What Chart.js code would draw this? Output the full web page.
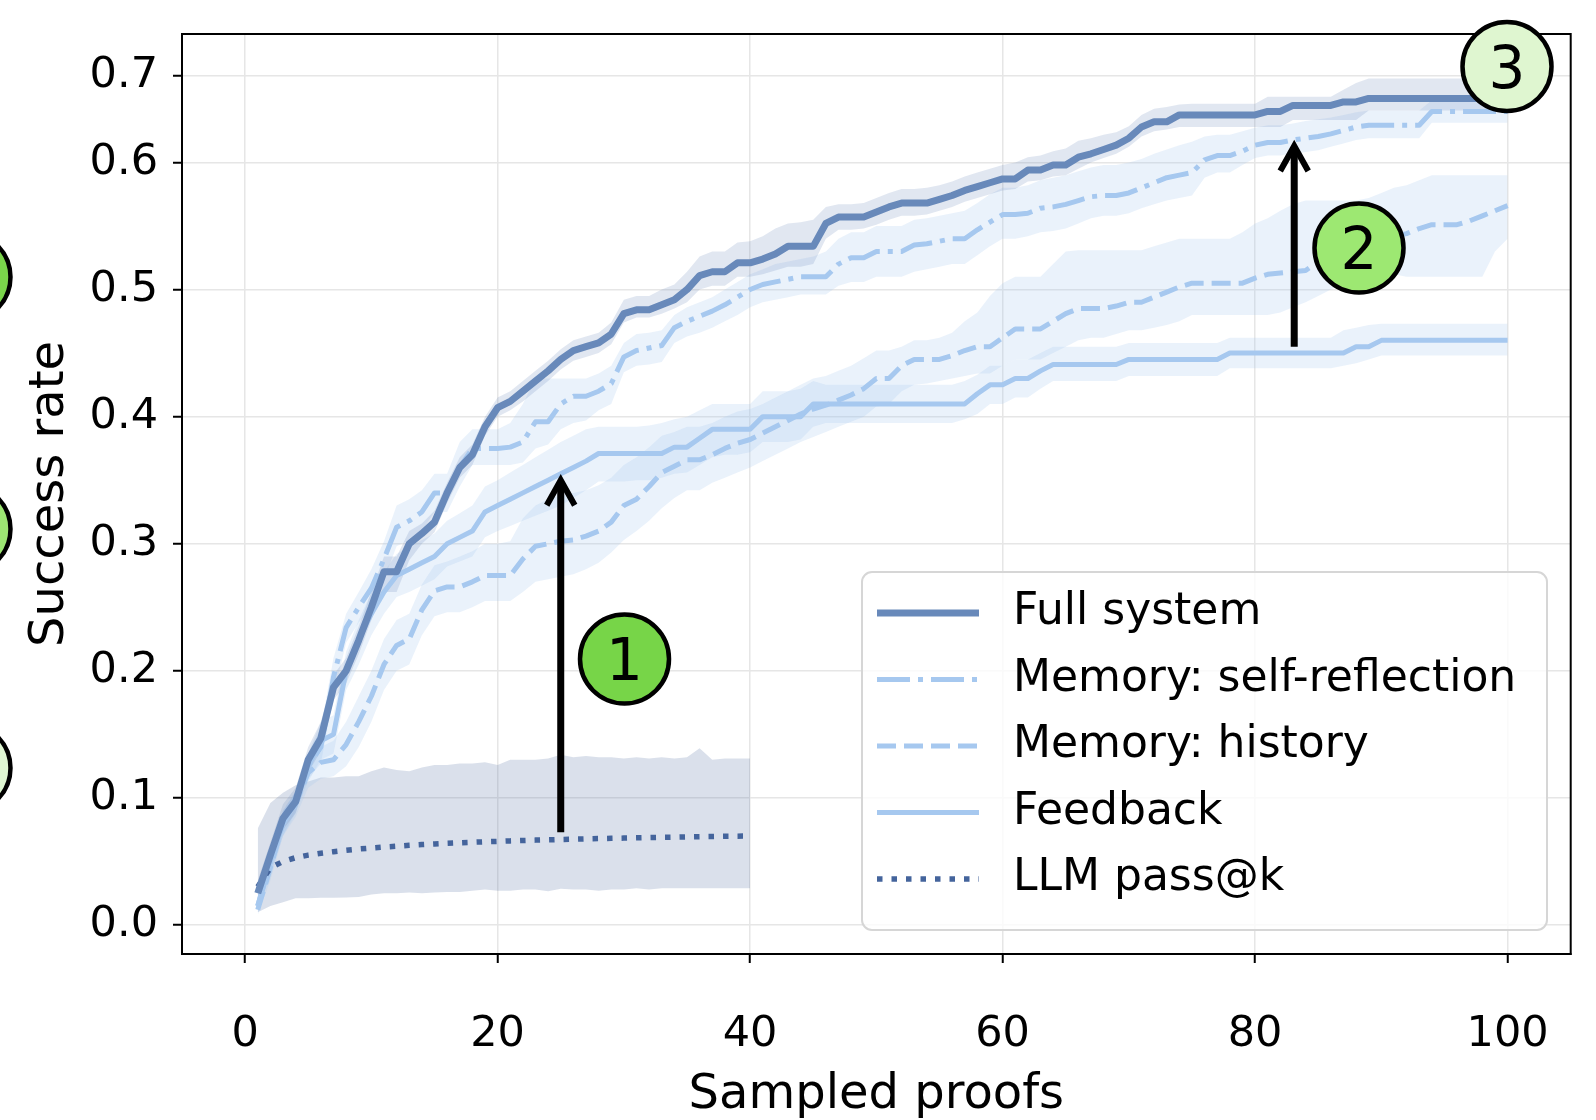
<!DOCTYPE html>
<html>
<head>
<meta charset="utf-8">
<script src="https://cdn.jsdelivr.net/npm/chart.js@4.4.1/dist/chart.umd.min.js"></script>
<style>
  html, body { margin: 0; padding: 0; background: #fff; }
</style>
</head>
<body>
<canvas id="chart" width="1596" height="1120"></canvas>
<script>
// success rate per number of sampled proofs (k = 1..100)
const fullSystem = [
  0.025, 0.055, 0.084, 0.097, 0.130, 0.147, 0.187, 0.200, 0.224, 0.250,
  0.278, 0.278, 0.300, 0.308, 0.317, 0.340, 0.360, 0.370, 0.392, 0.407,
  0.412, 0.420, 0.428, 0.436, 0.445, 0.452, 0.455, 0.458, 0.465, 0.481,
  0.484, 0.484, 0.488, 0.492, 0.500, 0.511, 0.514, 0.514, 0.521, 0.521,
  0.524, 0.528, 0.534, 0.534, 0.534, 0.552, 0.557, 0.557, 0.557, 0.561,
  0.565, 0.568, 0.568, 0.568, 0.571, 0.574, 0.578, 0.581, 0.584, 0.587,
  0.587, 0.594, 0.594, 0.598, 0.598, 0.606, 0.610, 0.615, 0.620, 0.628,
  0.641, 0.647, 0.647, 0.655, 0.655, 0.655, 0.655, 0.655, 0.655, 0.655,
  0.659, 0.659, 0.666, 0.666, 0.666, 0.666, 0.670, 0.670, 0.674, 0.674,
  0.674, 0.674, 0.674, 0.674, 0.674, 0.674, 0.674, 0.674, 0.674, 0.674
];
const fullUpper = [
  0.035, 0.065, 0.095, 0.108, 0.140, 0.160, 0.197, 0.210, 0.235, 0.262,
  0.290, 0.290, 0.310, 0.316, 0.326, 0.348, 0.368, 0.378, 0.400, 0.415,
  0.420, 0.428, 0.436, 0.444, 0.453, 0.460, 0.463, 0.466, 0.474, 0.492,
  0.495, 0.495, 0.500, 0.504, 0.514, 0.526, 0.530, 0.530, 0.537, 0.538,
  0.542, 0.548, 0.552, 0.553, 0.555, 0.565, 0.567, 0.567, 0.568, 0.572,
  0.576, 0.579, 0.579, 0.580, 0.582, 0.585, 0.589, 0.592, 0.595, 0.598,
  0.600, 0.606, 0.608, 0.613, 0.616, 0.625, 0.628, 0.632, 0.635, 0.642,
  0.655, 0.662, 0.664, 0.667, 0.668, 0.668, 0.668, 0.668, 0.668, 0.668,
  0.676, 0.676, 0.676, 0.676, 0.676, 0.676, 0.684, 0.692, 0.697, 0.697,
  0.697, 0.697, 0.697, 0.697, 0.697, 0.697, 0.697, 0.697, 0.697, 0.697
];
const fullLower = [
  0.018, 0.045, 0.075, 0.088, 0.120, 0.137, 0.177, 0.190, 0.213, 0.240,
  0.262, 0.262, 0.287, 0.300, 0.309, 0.332, 0.352, 0.362, 0.385, 0.400,
  0.405, 0.412, 0.420, 0.428, 0.437, 0.444, 0.447, 0.450, 0.457, 0.474,
  0.478, 0.478, 0.481, 0.485, 0.490, 0.500, 0.503, 0.503, 0.510, 0.510,
  0.512, 0.515, 0.518, 0.518, 0.520, 0.540, 0.547, 0.547, 0.548, 0.551,
  0.555, 0.558, 0.558, 0.559, 0.562, 0.565, 0.569, 0.572, 0.575, 0.578,
  0.579, 0.585, 0.586, 0.589, 0.590, 0.595, 0.600, 0.605, 0.610, 0.618,
  0.630, 0.636, 0.638, 0.641, 0.641, 0.641, 0.641, 0.641, 0.641, 0.641,
  0.641, 0.641, 0.649, 0.649, 0.649, 0.649, 0.649, 0.649, 0.660, 0.660,
  0.660, 0.660, 0.660, 0.660, 0.660, 0.660, 0.660, 0.660, 0.660, 0.660
];

const selfReflection = [
  0.015, 0.050, 0.080, 0.097, 0.125, 0.140, 0.195, 0.234, 0.250, 0.265,
  0.288, 0.313, 0.318, 0.325, 0.340, 0.340, 0.360, 0.375, 0.375, 0.375,
  0.376, 0.380, 0.396, 0.396, 0.410, 0.416, 0.416, 0.420, 0.426, 0.447,
  0.452, 0.454, 0.456, 0.470, 0.475, 0.479, 0.483, 0.488, 0.494, 0.500,
  0.504, 0.506, 0.508, 0.510, 0.510, 0.510, 0.520, 0.525, 0.525, 0.530,
  0.530, 0.530, 0.535, 0.536, 0.538, 0.540, 0.540, 0.547, 0.553, 0.559,
  0.559, 0.560, 0.564, 0.565, 0.567, 0.570, 0.573, 0.574, 0.574, 0.576,
  0.580, 0.584, 0.588, 0.590, 0.592, 0.603, 0.608, 0.608, 0.613, 0.620,
  0.623, 0.623, 0.626, 0.628, 0.630, 0.633, 0.637, 0.641, 0.643, 0.643,
  0.643, 0.643, 0.643, 0.659, 0.659, 0.659, 0.659, 0.659, 0.659, 0.659
];
const selfReflectionUpper = [
  0.020, 0.060, 0.090, 0.105, 0.135, 0.155, 0.210, 0.245, 0.262, 0.280,
  0.302, 0.330, 0.335, 0.342, 0.355, 0.355, 0.380, 0.390, 0.390, 0.390,
  0.395, 0.410, 0.430, 0.430, 0.430, 0.430, 0.430, 0.434, 0.440, 0.458,
  0.465, 0.466, 0.468, 0.480, 0.486, 0.490, 0.494, 0.500, 0.506, 0.512,
  0.516, 0.520, 0.522, 0.524, 0.526, 0.530, 0.540, 0.545, 0.545, 0.550,
  0.550, 0.550, 0.555, 0.556, 0.558, 0.560, 0.562, 0.568, 0.575, 0.580,
  0.580, 0.582, 0.586, 0.588, 0.590, 0.593, 0.596, 0.598, 0.598, 0.600,
  0.604, 0.610, 0.615, 0.620, 0.624, 0.630, 0.632, 0.632, 0.636, 0.640,
  0.643, 0.643, 0.645, 0.648, 0.650, 0.652, 0.655, 0.658, 0.660, 0.660,
  0.660, 0.660, 0.660, 0.672, 0.672, 0.672, 0.672, 0.672, 0.672, 0.672
];
const selfReflectionLower = [
  0.010, 0.040, 0.070, 0.090, 0.115, 0.127, 0.180, 0.222, 0.238, 0.250,
  0.272, 0.298, 0.303, 0.310, 0.325, 0.325, 0.345, 0.362, 0.362, 0.362,
  0.362, 0.364, 0.375, 0.378, 0.390, 0.395, 0.397, 0.405, 0.410, 0.435,
  0.440, 0.441, 0.443, 0.458, 0.463, 0.466, 0.470, 0.475, 0.480, 0.486,
  0.490, 0.492, 0.494, 0.496, 0.496, 0.496, 0.503, 0.506, 0.506, 0.510,
  0.510, 0.510, 0.514, 0.516, 0.518, 0.520, 0.520, 0.527, 0.534, 0.540,
  0.540, 0.542, 0.545, 0.546, 0.548, 0.552, 0.556, 0.558, 0.558, 0.560,
  0.564, 0.567, 0.570, 0.572, 0.574, 0.588, 0.592, 0.592, 0.598, 0.605,
  0.608, 0.608, 0.610, 0.612, 0.614, 0.618, 0.622, 0.626, 0.628, 0.628,
  0.628, 0.628, 0.628, 0.646, 0.646, 0.646, 0.646, 0.646, 0.646, 0.646
];

const history = [
  0.012, 0.045, 0.080, 0.095, 0.120, 0.128, 0.130, 0.142, 0.160, 0.180,
  0.205, 0.220, 0.225, 0.248, 0.263, 0.266, 0.266, 0.270, 0.275, 0.275,
  0.275, 0.288, 0.298, 0.300, 0.302, 0.303, 0.306, 0.310, 0.317, 0.330,
  0.335, 0.345, 0.356, 0.361, 0.366, 0.366, 0.370, 0.375, 0.379, 0.382,
  0.387, 0.392, 0.397, 0.402, 0.406, 0.409, 0.413, 0.417, 0.422, 0.430,
  0.430, 0.440, 0.445, 0.445, 0.445, 0.448, 0.452, 0.455, 0.455, 0.462,
  0.469, 0.469, 0.469, 0.475, 0.481, 0.485, 0.485, 0.485, 0.487, 0.490,
  0.490, 0.494, 0.498, 0.502, 0.505, 0.505, 0.505, 0.505, 0.505, 0.509,
  0.512, 0.513, 0.514, 0.515, 0.522, 0.528, 0.530, 0.532, 0.535, 0.538,
  0.542, 0.544, 0.548, 0.551, 0.551, 0.551, 0.554, 0.558, 0.562, 0.566
];
const historyUpper = [
  0.018, 0.055, 0.090, 0.105, 0.132, 0.140, 0.145, 0.160, 0.180, 0.200,
  0.225, 0.240, 0.245, 0.268, 0.283, 0.286, 0.290, 0.294, 0.300, 0.300,
  0.302, 0.320, 0.330, 0.335, 0.338, 0.340, 0.342, 0.346, 0.352, 0.362,
  0.368, 0.376, 0.385, 0.388, 0.392, 0.392, 0.395, 0.400, 0.404, 0.406,
  0.410, 0.415, 0.420, 0.425, 0.430, 0.432, 0.436, 0.440, 0.446, 0.452,
  0.452, 0.455, 0.460, 0.460, 0.462, 0.466, 0.475, 0.482, 0.495, 0.505,
  0.510, 0.510, 0.510, 0.520, 0.530, 0.531, 0.531, 0.531, 0.531, 0.531,
  0.531, 0.534, 0.537, 0.540, 0.540, 0.540, 0.540, 0.540, 0.545, 0.552,
  0.556, 0.562, 0.567, 0.570, 0.570, 0.570, 0.570, 0.570, 0.572, 0.576,
  0.580, 0.582, 0.586, 0.590, 0.590, 0.590, 0.590, 0.590, 0.590, 0.590
];
const historyLower = [
  0.008, 0.035, 0.070, 0.085, 0.108, 0.115, 0.117, 0.125, 0.140, 0.160,
  0.185, 0.200, 0.205, 0.228, 0.243, 0.246, 0.246, 0.250, 0.255, 0.255,
  0.255, 0.262, 0.270, 0.272, 0.274, 0.276, 0.280, 0.285, 0.293, 0.303,
  0.310, 0.318, 0.328, 0.336, 0.342, 0.342, 0.348, 0.352, 0.356, 0.360,
  0.365, 0.370, 0.375, 0.380, 0.384, 0.388, 0.392, 0.396, 0.400, 0.408,
  0.410, 0.420, 0.425, 0.426, 0.428, 0.430, 0.432, 0.434, 0.434, 0.440,
  0.445, 0.445, 0.445, 0.450, 0.455, 0.460, 0.462, 0.462, 0.465, 0.468,
  0.468, 0.470, 0.472, 0.475, 0.480, 0.480, 0.480, 0.480, 0.480, 0.480,
  0.480, 0.482, 0.486, 0.490, 0.495, 0.500, 0.505, 0.510, 0.513, 0.513,
  0.512, 0.510, 0.510, 0.510, 0.510, 0.510, 0.510, 0.510, 0.530, 0.540
];

const feedback = [
  0.015, 0.050, 0.080, 0.097, 0.125, 0.145, 0.150, 0.200, 0.225, 0.245,
  0.262, 0.275, 0.280, 0.285, 0.290, 0.300, 0.305, 0.310, 0.325, 0.330,
  0.335, 0.340, 0.345, 0.350, 0.355, 0.360, 0.365, 0.371, 0.371, 0.371,
  0.371, 0.371, 0.371, 0.376, 0.376, 0.383, 0.390, 0.390, 0.390, 0.390,
  0.400, 0.400, 0.400, 0.400, 0.410, 0.410, 0.410, 0.410, 0.410, 0.410,
  0.410, 0.410, 0.410, 0.410, 0.410, 0.410, 0.410, 0.418, 0.425, 0.425,
  0.430, 0.430, 0.436, 0.441, 0.441, 0.441, 0.441, 0.441, 0.441, 0.445,
  0.445, 0.445, 0.445, 0.445, 0.445, 0.445, 0.445, 0.450, 0.450, 0.450,
  0.450, 0.450, 0.450, 0.450, 0.450, 0.450, 0.450, 0.455, 0.455, 0.460,
  0.460, 0.460, 0.460, 0.460, 0.460, 0.460, 0.460, 0.460, 0.460, 0.460
];
const feedbackUpper = [
  0.020, 0.060, 0.090, 0.105, 0.135, 0.160, 0.165, 0.215, 0.240, 0.262,
  0.278, 0.292, 0.298, 0.303, 0.308, 0.318, 0.324, 0.330, 0.345, 0.350,
  0.356, 0.362, 0.368, 0.374, 0.380, 0.385, 0.390, 0.392, 0.392, 0.392,
  0.392, 0.393, 0.395, 0.398, 0.400, 0.405, 0.410, 0.410, 0.410, 0.410,
  0.420, 0.420, 0.420, 0.422, 0.428, 0.425, 0.425, 0.425, 0.425, 0.425,
  0.425, 0.425, 0.425, 0.425, 0.425, 0.425, 0.428, 0.433, 0.440, 0.440,
  0.445, 0.445, 0.450, 0.455, 0.455, 0.455, 0.455, 0.455, 0.455, 0.458,
  0.458, 0.458, 0.458, 0.458, 0.458, 0.458, 0.458, 0.462, 0.462, 0.462,
  0.462, 0.462, 0.462, 0.462, 0.462, 0.462, 0.468, 0.470, 0.472, 0.473,
  0.473, 0.473, 0.473, 0.473, 0.473, 0.473, 0.473, 0.473, 0.473, 0.473
];
const feedbackLower = [
  0.010, 0.040, 0.070, 0.088, 0.113, 0.130, 0.135, 0.185, 0.205, 0.228,
  0.245, 0.258, 0.262, 0.267, 0.272, 0.282, 0.286, 0.290, 0.305, 0.310,
  0.314, 0.318, 0.322, 0.326, 0.330, 0.336, 0.342, 0.349, 0.349, 0.349,
  0.350, 0.350, 0.352, 0.355, 0.356, 0.362, 0.368, 0.370, 0.370, 0.372,
  0.380, 0.380, 0.380, 0.382, 0.392, 0.395, 0.395, 0.395, 0.395, 0.395,
  0.395, 0.395, 0.395, 0.395, 0.395, 0.395, 0.398, 0.402, 0.410, 0.410,
  0.415, 0.415, 0.422, 0.428, 0.428, 0.428, 0.428, 0.428, 0.428, 0.432,
  0.432, 0.432, 0.432, 0.432, 0.432, 0.432, 0.432, 0.438, 0.438, 0.438,
  0.438, 0.438, 0.438, 0.438, 0.438, 0.438, 0.440, 0.442, 0.445, 0.448,
  0.448, 0.448, 0.448, 0.448, 0.448, 0.448, 0.448, 0.448, 0.448, 0.448
];

// LLM pass@k only goes to k = 40
const passAtK = [
  0.030, 0.045, 0.050, 0.053, 0.055, 0.0565, 0.0577, 0.0588, 0.0598, 0.0606,
  0.0614, 0.0620, 0.0627, 0.0633, 0.0638, 0.0643, 0.0647, 0.0651, 0.0655, 0.0658,
  0.0662, 0.0665, 0.0668, 0.0670, 0.0673, 0.0675, 0.0678, 0.0680, 0.0682, 0.0684,
  0.0686, 0.0688, 0.0690, 0.0691, 0.0693, 0.0695, 0.0696, 0.0698, 0.0699, 0.0700
];
const passAtKUpper = [
  0.076, 0.096, 0.104, 0.110, 0.113, 0.116, 0.116, 0.117, 0.117, 0.121,
  0.124, 0.122, 0.121, 0.124, 0.126, 0.126, 0.127, 0.127, 0.128, 0.126,
  0.130, 0.130, 0.130, 0.131, 0.134, 0.132, 0.133, 0.132, 0.132, 0.131,
  0.132, 0.131, 0.132, 0.131, 0.132, 0.139, 0.130, 0.131, 0.131, 0.131
];
const passAtKLower = [
  0.010, 0.015, 0.018, 0.021, 0.021, 0.0215, 0.0215, 0.0216, 0.022, 0.024,
  0.025, 0.025, 0.0255, 0.025, 0.0255, 0.026, 0.026, 0.027, 0.028, 0.027,
  0.027, 0.028, 0.028, 0.0265, 0.0286, 0.028, 0.028, 0.027, 0.028, 0.028,
  0.029, 0.028, 0.029, 0.029, 0.029, 0.029, 0.029, 0.029, 0.029, 0.029
];

const xTicks = [0, 20, 40, 60, 80, 100];
const yTicks = [0.0, 0.1, 0.2, 0.3, 0.4, 0.5, 0.6, 0.7];
const legendOrder = ['Full system', 'Memory: self-reflection', 'Memory: history', 'Feedback', 'LLM pass@k'];

// the two arrows (x, from, to) in data units
const arrowX = [25, 83.1];
const arrowFrom = [0.073, 0.455];
const arrowTo = [0.35, 0.619];

const DARK = '#6889ba';
const LIGHT = '#a6c8ef';
const DOTS = '#44649c';
const FONT = "'DejaVu Sans', sans-serif";

// y axis is squeezed above 0.6 in the original figure
const Y_BREAK = 0.6;
const Y_BREAK_AT = 0.8604;

class BrokenLinearScale extends Chart.LinearScale {
  static id = 'brokenLinear';
  static defaults = Chart.LinearScale.defaults;

  getPixelForValue(value) {
    if (value === null || isNaN(value)) return NaN;
    let dec;
    if (value <= Y_BREAK) {
      dec = (value - this.min) / (Y_BREAK - this.min) * Y_BREAK_AT;
    } else {
      dec = Y_BREAK_AT + (value - Y_BREAK) / (this.max - Y_BREAK) * (1 - Y_BREAK_AT);
    }
    return this.getPixelForDecimal(dec);
  }

  getValueForPixel(pixel) {
    const dec = this.getDecimalForPixel(pixel);
    if (dec <= Y_BREAK_AT) return this.min + dec / Y_BREAK_AT * (Y_BREAK - this.min);
    return Y_BREAK + (dec - Y_BREAK_AT) / (1 - Y_BREAK_AT) * (this.max - Y_BREAK);
  }
}
Chart.register(BrokenLinearScale);

function points(values) {
  return values.map((v, i) => ({ x: i + 1, y: v }));
}

function band(label, lower, upper, color, order, lowerIndex) {
  return [
    { label: label + ' lower', data: points(lower), borderColor: 'rgba(0,0,0,0)', borderWidth: 0, fill: false, order: order },
    { label: label + ' upper', data: points(upper), borderColor: 'rgba(0,0,0,0)', borderWidth: 0, backgroundColor: color, fill: lowerIndex, order: order }
  ];
}

const datasets = [
  ...band('LLM pass@k', passAtKLower, passAtKUpper, 'rgba(68,100,156,0.2)', 19, 0),
  ...band('Feedback', feedbackLower, feedbackUpper, 'rgba(166,200,239,0.23)', 18, 2),
  ...band('Memory: history', historyLower, historyUpper, 'rgba(166,200,239,0.23)', 17, 4),
  ...band('Memory: self-reflection', selfReflectionLower, selfReflectionUpper, 'rgba(166,200,239,0.23)', 16, 6),
  ...band('Full system', fullLower, fullUpper, 'rgba(104,137,186,0.2)', 15, 8),
  { label: 'Feedback', data: points(feedback), borderColor: LIGHT, borderWidth: 5, fill: false, order: 5 },
  { label: 'Memory: history', data: points(history), borderColor: LIGHT, borderWidth: 5, borderDash: [19, 8], fill: false, order: 4 },
  { label: 'Memory: self-reflection', data: points(selfReflection), borderColor: LIGHT, borderWidth: 5, borderDash: [33, 8, 5, 8], fill: false, order: 3 },
  { label: 'LLM pass@k', data: points(passAtK), borderColor: DOTS, borderWidth: 5.5, borderDash: [5.5, 9], fill: false, order: 2 },
  { label: 'Full system', data: points(fullSystem), borderColor: DARK, borderWidth: 7, fill: false, order: 1 }
];

function drawArrow(ctx, x, y0, y1) {
  ctx.save();
  ctx.strokeStyle = '#000';
  ctx.lineWidth = 7;
  ctx.lineCap = 'butt';
  ctx.beginPath();
  ctx.moveTo(x, y0);
  ctx.lineTo(x, y1 + 3);
  ctx.stroke();
  ctx.lineWidth = 6;
  ctx.lineJoin = 'miter';
  ctx.beginPath();
  ctx.moveTo(x - 14, y1 + 25);
  ctx.lineTo(x, y1);
  ctx.lineTo(x + 14, y1 + 25);
  ctx.stroke();
  ctx.restore();
}

function drawBadge(ctx, cx, cy, text, fill) {
  ctx.save();
  ctx.beginPath();
  ctx.arc(cx, cy, 44.5, 0, Math.PI * 2);
  ctx.fillStyle = fill;
  ctx.fill();
  ctx.lineWidth = 4.5;
  ctx.strokeStyle = '#000';
  ctx.stroke();
  if (text) {
    ctx.fillStyle = '#000';
    ctx.font = '58px ' + FONT;
    ctx.textAlign = 'center';
    ctx.textBaseline = 'alphabetic';
    ctx.fillText(text, cx, cy + 21);
  }
  ctx.restore();
}

function drawLegend(chart) {
  const ctx = chart.ctx;
  ctx.save();
  ctx.beginPath();
  ctx.roundRect(862, 572, 685, 358, 10);
  ctx.fillStyle = 'rgba(255,255,255,0.8)';
  ctx.fill();
  ctx.lineWidth = 2;
  ctx.strokeStyle = '#d6d6d6';
  ctx.stroke();
  legendOrder.forEach((label, i) => {
    const ds = chart.data.datasets.find(d => d.label === label);
    const rowY = 613 + i * 66.5;
    ctx.beginPath();
    ctx.setLineDash(ds.borderDash || []);
    ctx.lineWidth = ds.borderWidth;
    ctx.strokeStyle = ds.borderColor;
    ctx.lineCap = 'butt';
    ctx.moveTo(877, rowY);
    ctx.lineTo(979, rowY);
    ctx.stroke();
    ctx.setLineDash([]);
    ctx.fillStyle = '#000';
    ctx.font = '44px ' + FONT;
    ctx.textAlign = 'left';
    ctx.textBaseline = 'middle';
    ctx.fillText(label, 1013, rowY);
  });
  ctx.restore();
}

const decorations = {
  id: 'decorations',
  afterDraw(chart) {
    const { ctx, chartArea: a, scales: { x, y } } = chart;
    ctx.save();
    ctx.strokeStyle = '#000';
    ctx.lineWidth = 2;
    ctx.strokeRect(a.left, a.top, a.right - a.left, a.bottom - a.top);
    ctx.restore();

    for (let i = 0; i < arrowX.length; i++) {
      drawArrow(ctx, x.getPixelForValue(arrowX[i]), y.getPixelForValue(arrowFrom[i]), y.getPixelForValue(arrowTo[i]));
    }

    drawLegend(chart);

    // numbered markers, plus the ones cut off at the left edge
    drawBadge(ctx, -34, 277, '', '#7ad54b');
    drawBadge(ctx, -34, 529, '', '#9de673');
    drawBadge(ctx, -34, 768, '', '#dff6d2');
    drawBadge(ctx, 624.5, 659, '1', '#77d548');
    drawBadge(ctx, 1359, 248, '2', '#9de872');
    drawBadge(ctx, 1507, 66.5, '3', '#dff6d0');
  }
};

Chart.defaults.font.family = FONT;
Chart.defaults.color = '#000';

new Chart(document.getElementById('chart').getContext('2d'), {
  type: 'line',
  data: { datasets: datasets },
  options: {
    responsive: false,
    animation: false,
    events: [],
    layout: { padding: { left: 0, top: 34, right: 25.3, bottom: 0 } },
    elements: {
      point: { radius: 0 },
      line: { tension: 0, borderJoinStyle: 'round', borderCapStyle: 'butt' }
    },
    plugins: {
      legend: { display: false },
      tooltip: { enabled: false },
      filler: { propagate: false }
    },
    scales: {
      x: {
        type: 'linear',
        min: -5,
        max: 105,
        afterBuildTicks: s => { s.ticks = xTicks.map(v => ({ value: v })); },
        ticks: { padding: 46, maxRotation: 0, autoSkip: false, font: { size: 43 }, color: '#000', callback: v => String(v) },
        grid: { color: '#e6e6e6', lineWidth: 1.5, tickColor: '#000', tickLength: 9, tickWidth: 2 },
        border: { color: '#000', width: 2 },
        title: { display: true, text: 'Sampled proofs', font: { size: 48 }, color: '#000', padding: { top: 0, bottom: -4 } },
        afterFit: s => { s.height = 166; s.paddingLeft = 0; s.paddingRight = 0; }
      },
      y: {
        type: 'brokenLinear',
        min: -0.0228,
        max: 0.7486,
        afterBuildTicks: s => { s.ticks = yTicks.map(v => ({ value: v })); },
        ticks: { padding: 15, autoSkip: false, font: { size: 43 }, color: '#000', callback: v => v.toFixed(1) },
        grid: { color: '#e6e6e6', lineWidth: 1.5, tickColor: '#000', tickLength: 9, tickWidth: 2 },
        border: { color: '#000', width: 2 },
        title: { display: true, text: 'Success rate', font: { size: 48 }, color: '#000', padding: { top: 22, bottom: 0 } },
        afterFit: s => { s.width = 182; s.paddingTop = 0; s.paddingBottom = 0; }
      }
    }
  },
  plugins: [decorations]
});
</script>
</body>
</html>
